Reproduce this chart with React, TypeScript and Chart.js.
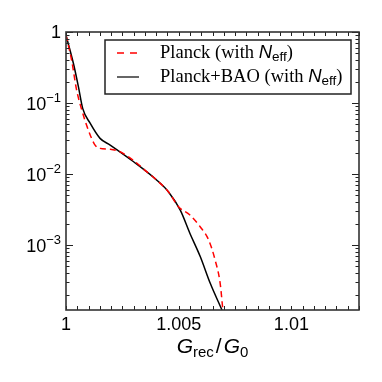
import React, { useEffect, useRef } from "react";
import { Chart, registerables } from "chart.js";

Chart.register(...registerables);

const planckX = [1.0, 1.00025, 1.00047, 1.0007, 1.00099, 1.00129, 1.00151, 1.00196, 1.0024, 1.003, 1.00358, 1.00403, 1.00455, 1.00499, 1.0055, 1.00596, 1.00633, 1.00662, 1.00684, 1.00696];
const planckY = [0.9, 0.4, 0.153, 0.08, 0.0417, 0.0256, 0.023, 0.0224, 0.0206, 0.0155, 0.0108, 0.0082, 0.0056, 0.00347, 0.00265, 0.0018, 0.00118, 0.00061, 0.00029, 0.000122];

const baoX = [1.0, 1.00033, 1.00055, 1.00074, 1.00107, 1.00151, 1.00196, 1.003, 1.00403, 1.00455, 1.00507, 1.0055, 1.00596, 1.0064, 1.00692];
const baoY = [0.9, 0.36, 0.17, 0.084, 0.052, 0.0318, 0.0256, 0.0149, 0.0082, 0.0056, 0.0031, 0.00146, 0.000685, 0.00029, 0.000122];

const xMin = 1.0;
const xMax = 1.013;
const yMin = 1.22e-4;
const yMax = 1;
const xTickStep = 0.0005;
const xLabelValues = [1.0, 1.005, 1.01];
const xLabelTexts = ["1", "1.005", "1.01"];
const yDecades = [0, -1, -2, -3];

const legendLabels = ["Planck (with ", "Planck+BAO (with "];

const SANS = '"Liberation Sans", Arial, sans-serif';
const SERIF = '"Liberation Serif", "Times New Roman", serif';

export default function App() {
  const canvasRef = useRef<HTMLCanvasElement | null>(null);

  useEffect(() => {
    document.body.style.margin = "0";
    const canvas = canvasRef.current;
    if (!canvas) return;

    const decor = {
      id: "decor",
      afterDraw(chart: any) {
        const ctx = chart.ctx as CanvasRenderingContext2D;
        const a = chart.chartArea;
        const xs = chart.scales.x;
        const ys = chart.scales.y;
        ctx.save();
        ctx.strokeStyle = "#222";
        ctx.lineWidth = 1;
        const n = Math.round((xMax - xMin) / xTickStep);
        for (let i = 0; i <= n; i++) {
          const v = xMin + i * xTickStep;
          const px = Math.round(xs.getPixelForValue(v)) + 0.5;
          ctx.beginPath();
          ctx.moveTo(px, a.bottom);
          ctx.lineTo(px, a.bottom - 4);
          ctx.moveTo(px, a.top);
          ctx.lineTo(px, a.top + 4);
          ctx.stroke();
        }
        for (let d = -4; d <= 0; d++) {
          for (let m = 1; m <= 9; m++) {
            const v = m * Math.pow(10, d);
            if (v < yMin || v > yMax) continue;
            const py = Math.round(ys.getPixelForValue(v)) + 0.5;
            const len = m === 1 ? 7 : 3.5;
            ctx.beginPath();
            ctx.moveTo(a.left, py);
            ctx.lineTo(a.left + len, py);
            ctx.moveTo(a.right, py);
            ctx.lineTo(a.right - len, py);
            ctx.stroke();
          }
        }
        ctx.lineWidth = 1.6;
        ctx.strokeStyle = "#333";
        ctx.strokeRect(a.left, a.top, a.right - a.left, a.bottom - a.top);

        ctx.fillStyle = "#000";
        ctx.font = `18px ${SANS}`;
        ctx.textAlign = "center";
        ctx.textBaseline = "alphabetic";
        xLabelValues.forEach((v, i) => {
          ctx.fillText(xLabelTexts[i], xs.getPixelForValue(v), a.bottom + 20);
        });

        yDecades.forEach((d) => {
          const py = ys.getPixelForValue(Math.pow(10, d));
          const right = a.left - 5;
          if (d === 0) {
            ctx.font = `18px ${SANS}`;
            ctx.textAlign = "right";
            ctx.fillText("1", right, py + 6);
          } else {
            ctx.font = `13px ${SANS}`;
            const sup = "\u2212" + String(-d);
            const sw = ctx.measureText(sup).width;
            ctx.textAlign = "right";
            ctx.fillText(sup, right, py - 1);
            ctx.font = `18px ${SANS}`;
            ctx.fillText("10", right - sw, py + 6.5);
          }
        });

        const cx = (a.left + a.right) / 2;
        const by = 353;
        const parts: [string, string, number][] = [
          ["G", `italic 21px ${SANS}`, 0],
          ["rec", `15px ${SANS}`, 4],
          ["/", `21px ${SANS}`, 0],
          ["G", `italic 21px ${SANS}`, 0],
          ["0", `15px ${SANS}`, 4],
        ];
        let total = 0;
        const widths = parts.map(([t, f]) => {
          ctx.font = f;
          const w = ctx.measureText(t).width;
          total += w;
          return w;
        });
        total += 4;
        let x = cx - total / 2;
        ctx.textAlign = "left";
        parts.forEach(([t, f, dy], i) => {
          ctx.font = f;
          ctx.fillText(t, x, by + dy);
          x += widths[i] + (i === 1 || i === 2 ? 2 : 0);
        });

        const lx = 105, ly = 40, lw = 246, lh = 54;
        ctx.fillStyle = "#fff";
        ctx.fillRect(lx, ly, lw, lh);
        ctx.lineWidth = 1.5;
        ctx.strokeStyle = "#222";
        ctx.strokeRect(lx, ly, lw, lh);
        const rows = [
          { y: 53, color: "#ff0000", dash: [7, 6] },
          { y: 77, color: "#333", dash: [] as number[] },
        ];
        rows.forEach((r, i) => {
          ctx.beginPath();
          ctx.setLineDash(r.dash);
          ctx.strokeStyle = r.color;
          ctx.lineWidth = 1.5;
          ctx.moveTo(117, r.y);
          ctx.lineTo(i === 0 ? 137 : 139, r.y);
          ctx.stroke();
          ctx.setLineDash([]);
          let tx = 160;
          const base = r.y + 5;
          ctx.fillStyle = "#000";
          ctx.textAlign = "left";
          ctx.font = `18.5px ${SERIF}`;
          ctx.fillText(legendLabels[i], tx, base);
          tx += ctx.measureText(legendLabels[i]).width;
          ctx.font = `italic 18.5px ${SANS}`;
          ctx.fillText("N", tx, base);
          tx += ctx.measureText("N").width;
          ctx.font = `13.5px ${SANS}`;
          ctx.fillText("eff", tx, base + 3);
          tx += ctx.measureText("eff").width;
          ctx.font = `18.5px ${SERIF}`;
          ctx.fillText(")", tx, base);
        });
        ctx.restore();
      },
    };

    const chart = new Chart(canvas, {
      type: "line",
      data: {
        datasets: [
          {
            label: "Planck (with Neff)",
            data: planckX.map((x, i) => ({ x, y: planckY[i] })),
            borderColor: "#ff0000",
            borderWidth: 1.5,
            borderDash: [6, 4],
            pointRadius: 0,
            fill: false,
            cubicInterpolationMode: "monotone",
          },
          {
            label: "Planck+BAO (with Neff)",
            data: baoX.map((x, i) => ({ x, y: baoY[i] })),
            borderColor: "#000000",
            borderWidth: 1.5,
            pointRadius: 0,
            fill: false,
            cubicInterpolationMode: "monotone",
          },
        ],
      },
      options: {
        responsive: false,
        animation: false,
        layout: { padding: { top: 32, right: 23, left: 0, bottom: 0 } },
        plugins: { legend: { display: false }, tooltip: { enabled: false } },
        scales: {
          x: {
            type: "linear",
            min: xMin,
            max: xMax,
            ticks: { display: false },
            grid: { display: false },
            border: { display: false },
            afterFit: (s: any) => { s.height = 72; },
          },
          y: {
            type: "logarithmic",
            min: yMin,
            max: yMax,
            ticks: { display: false },
            grid: { display: false },
            border: { display: false },
            afterFit: (s: any) => { s.width = 66; },
          },
        },
      },
      plugins: [decor],
    });
    return () => chart.destroy();
  }, []);

  return (
    <div style={{ position: "absolute", left: 0, top: 0, width: 382, height: 382, background: "#fff" }}>
      <canvas ref={canvasRef} width={382} height={382} />
    </div>
  );
}
